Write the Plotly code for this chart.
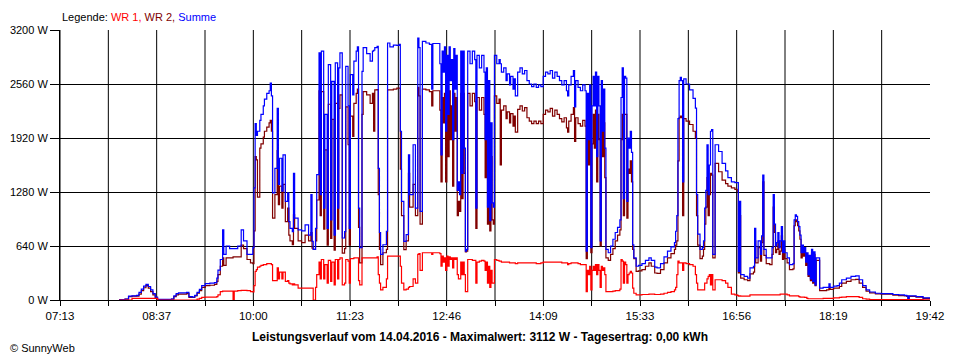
import plotly.graph_objects as go

# ---------------- data ----------------
times = (
    ["08:04","08:09","08:12","08:15","08:19","08:21","08:23","08:25","08:27","08:29","08:31","08:33","08:35","08:37","08:43","08:49","08:51","08:53","08:55","09:02","09:04","09:07","09:09","09:11","09:13","09:15","09:18","09:22","09:26","09:28"]
    + ["09:29","09:31","09:33","09:34","09:36","09:39","09:42","09:43","09:46","09:49","09:51","09:54","09:57","09:59","10:00","10:01","10:02","10:03","10:05","10:06","10:08","10:09","10:11","10:13","10:14","10:15","10:16"]
    + ["10:18","10:20","10:21","10:22","10:24","10:25","10:27","10:29","10:30","10:31","10:33","10:34","10:35","10:38","10:41","10:44","10:47","10:49","10:50","10:51","10:53"]
    + ["10:54","10:56","10:57","10:58","11:00","11:01","11:03","11:04","11:06","11:07","11:09","11:10","11:12","11:13","11:14","11:16","11:18","11:19","11:21","11:22","11:23","11:25","11:26","11:28","11:29","11:30"]
    + ["11:31","11:33","11:34","11:37","11:40","11:42","11:43","11:44","11:46","11:47","11:48","11:49","11:51","11:54","11:55","11:57","12:00","12:03","12:05","12:06","12:07","12:09","12:11","12:13","12:14","12:17","12:19"]
    + ["12:21","12:22","12:23","12:25","12:28","12:31","12:33","12:34","12:38","12:40","12:41","12:42","12:43","12:44","12:45","12:46","12:47","12:48","12:49","12:50","12:51","12:52","12:53","12:54","12:55","12:56","12:57","12:58"]
    + ["12:59","13:00","13:01","13:02","13:03","13:04","13:06","13:08","13:10","13:11","13:12","13:14","13:16","13:18","13:19","13:20","13:21","13:22","13:23","13:24","13:25","13:26","13:27","13:29","13:31","13:32","13:33","13:35","13:37","13:38","13:40","13:41","13:43","13:44","13:45"]
    + ["13:47","13:49","13:51","13:53","13:55","13:57","13:59","14:01","14:03","14:05","14:07","14:09","14:11","14:13","14:15","14:17","14:19","14:21","14:23","14:25","14:27","14:29","14:30","14:31","14:33","14:35","14:36","14:37","14:39","14:41","14:43","14:45"]
    + ["14:46","14:47","14:48","14:49","14:50","14:51","14:52","14:53","14:54","14:55","14:56","14:57","14:58","14:59","15:00","15:01","15:02","15:03","15:05","15:07","15:09","15:11","15:13","15:15"]
    + ["15:16","15:17","15:18","15:19","15:20","15:21","15:22","15:23","15:24","15:25","15:26","15:27","15:29","15:31","15:34","15:37","15:40","15:42","15:45","15:47","15:50","15:53","15:56","15:59","16:02"]
    + ["16:03","16:04","16:05","16:06","16:07","16:08","16:09","16:10","16:12","16:15","16:18","16:20","16:21","16:22","16:24","16:26","16:27","16:28","16:29","16:30","16:31","16:32","16:33","16:34","16:35"]
    + ["16:37","16:40","16:43","16:46","16:48","16:51","16:54","16:56","16:57","16:58","16:59","17:02","17:05","17:07","17:10"]
    + ["17:11","17:12","17:14","17:16","17:17","17:18","17:19","17:21","17:24","17:26","17:27","17:28","17:29","17:30","17:31","17:32","17:33","17:34","17:35","17:36","17:37","17:39","17:41","17:44","17:45","17:46","17:47","17:48","17:49","17:50","17:51","17:52","17:53","17:54","17:55","17:56","17:57","17:58","17:59","18:00","18:01","18:02","18:03","18:04","18:06","18:07"]
    + ["18:10","18:13","18:15","18:16","18:19","18:22","18:24","18:26","18:30","18:34","18:38","18:41","18:44","18:47","18:50","18:55","19:00","19:10","19:15","19:20","19:22","19:23","19:24","19:30","19:36","19:42"]
)

wr1 = (
    [0,0,0,20,20,20,20,20,20,20,20,20,20,0,0,0,0,0,0,0,0,0,0,10,20,30,35,35,35,40]
    + [60,100,105,105,105,105,0,105,110,115,115,110,100,95,170,340,360,390,400,410,420,420,430,430,430,420,230]
    + [230,380,250,330,250,330,220,230,200,190,180,190,180,140,140,140,140,140,140,0,150]
    + [300,450,250,480,250,420,200,470,220,450,180,480,250,480,500,180,200,480,460,200,490,490,500,500,500,230]
    + [180,500,500,500,500,500,500,500,510,300,200,120,150,250,520,520,520,520,520,400,200,120,130,150,160,250,200]
    + [540,550,350,560,560,560,540,560,560,550,400,520,450,500,350,520,400,510,480,500,380,500,480,500,300,250,250,450]
    + [300,450,300,100,100,480,480,470,470,200,450,460,470,460,350,450,200,400,150,350,200,200,480,470,460,460,450,450,450,450,440,440,440,440,430]
    + [440,440,440,440,440,440,440,440,430,430,440,450,450,450,450,450,450,450,450,440,440,440,420,430,440,440,440,440,430,420,420,420]
    + [100,350,300,400,120,350,400,350,420,300,420,350,150,400,350,380,300,100,100,100,105,110,110,130]
    + [480,460,200,450,420,200,300,320,340,320,140,80,60,60,65,65,70,70,65,65,70,80,90,100,120]
    + [150,300,460,440,440,440,350,440,430,420,400,300,200,120,120,120,120,200,200,250,280,300,180,300,120]
    + [240,240,230,200,150,70,60,55,45,50,45,45,45,60,60]
    + [60]*16 + [70]*5 + [60] + [50]*6 + [40] + [35]*4 + [30,30,20] + [15]*10
    + [20,20,20,20,25,25,30,35,40,40,40,30,15,10,5,5,5,5,5,5,5,5,5,5,3,2]
)

wr2 = (
    [5,10,40,45,45,70,110,145,170,140,100,60,25,5,5,10,40,60,70,75,30,30,50,80,110,150,170,175,185,220]
    + [300,400,500,410,500,500,510,510,510,650,610,480,440,430,820,1700,1660,1220,1800,1850,1930,2000,2050,2100,2130,2000,970]
    + [1250,1770,1130,1350,1090,1370,930,1090,770,700,655,1010,850,700,680,770,700,800,616,600,700]
    + [1185,2480,1000,2470,840,1780,650,2320,730,2140,590,2330,840,2270,2430,555,610,2290,1840,650,2180,1940,2330,2450,2500,860]
    + [440,2200,2470,2430,2330,2450,2000,2490,2495,1250,600,420,560,600,2490,2490,2500,2510,2510,1550,1000,596,700,1500,1100,1370,1000]
    + [2520,2420,900,2500,2490,2470,2300,2480,2480,2250,1400,2400,2100,2450,1400,2350,1700,2480,1900,2300,1350,2450,2000,2400,1000,1170,1050,2450]
    + [1200,2450,1500,570,580,2450,2300,2450,2350,850,2400,2250,2400,2200,1450,2250,900,2100,820,1700,950,900,2420,2330,2380,1600,2250,2300,2150,2230,2100,2210,2060,2180,1990]
    + [2260,2300,2240,2280,2160,2120,2090,2120,2090,2120,2090,2200,2250,2230,2270,2180,2250,2200,2150,2110,2160,2040,1990,2120,2200,2280,1880,2160,2090,2060,2130,2060]
    + [490,2000,1600,2100,560,1850,2200,1800,2250,1400,2200,1900,640,2150,1700,2100,1450,500,470,540,610,700,770,830]
    + [1900,2200,1000,2200,2200,970,1550,1500,1650,1400,600,490,340,345,360,400,440,400,320,315,360,440,500,550,600]
    + [650,700,1650,2160,2180,2160,1000,2150,2120,2080,2000,1920,1000,650,490,520,600,900,1100,1450,1000,1250,1500,1480,500]
    + [1620,1520,1420,1380,1350,1330,1310,1290,320,1000,260,240,230,310,330]
    + [700,440,620,460,680,1400,530,430,420,540,1100,800,560,600,700,540,580,760,480,600,490,440,360,370,880,950,930,880,820,720,500,590,520,560,410,520,280,500,230,560,200,540,170,470,470,110]
    + [110,120,150,125,140,140,160,200,220,240,245,200,150,105,85,72,68,58,52,48,44,10,42,34,20,12]
)

summe = (
    [5,12,45,50,55,90,130,165,186,160,120,75,35,8,8,12,50,75,85,90,40,35,55,90,125,170,195,200,205,260]
    + [355,480,830,540,640,610,610,610,640,830,700,540,540,620,1330,2090,1950,2000,2130,2200,2300,2380,2450,2480,2570,2420,1270]
    + [1560,2270,1370,1680,1290,1720,1170,1270,930,850,810,1500,970,830,820,890,770,1250,695,600,850]
    + [1485,2930,1250,2950,1090,2200,850,2790,950,2590,770,2810,1090,2750,2930,735,810,2770,2300,850,2670,2430,2830,2950,3000,1090]
    + [620,2710,2990,2920,2830,2950,2960,2990,3006,1560,800,540,655,815,3046,3000,3020,3018,3030,2000,1170,695,775,1720,1250,1840,1090]
    + [3105,2990,1050,3066,3046,3030,2500,3040,3040,2800,1720,2950,2700,3000,2000,2900,2200,3000,2600,2850,1900,2980,2500,2900,1300,1400,1250,2950]
    + [1500,2950,1800,580,600,2950,2800,2950,2850,1090,2900,2750,2900,2700,1900,2750,1100,2600,940,2100,1150,1100,2900,2800,2850,2800,2700,2750,2600,2680,2550,2650,2500,2620,2420]
    + [2700,2750,2680,2720,2600,2560,2530,2560,2520,2550,2530,2650,2700,2680,2720,2630,2700,2650,2600,2550,2600,2480,2420,2550,2650,2720,2290,2600,2520,2480,2550,2480]
    + [580,2450,1900,2550,620,2300,2650,2300,2700,1700,2650,2300,700,2600,2000,2500,1800,600,560,640,720,800,860,950]
    + [2400,2750,1200,2650,2630,1170,1920,1800,2000,1750,655,500,400,410,430,470,500,470,390,380,430,510,580,630,680]
    + [815,1000,2150,2600,2640,2600,1400,2620,2560,2490,2390,2275,1250,780,600,620,700,1090,1300,1840,1250,1600,2000,2020,540]
    + [1840,1760,1620,1530,1450,1400,1390,1390,340,1170,300,280,260,380,400]
    + [850,500,700,540,760,1480,600,500,500,620,1250,900,640,680,800,620,700,870,560,700,560,500,420,430,950,1010,990,930,870,770,560,650,560,620,450,560,300,530,250,600,220,570,180,500,500,140]
    + [150,150,190,150,165,170,200,240,260,280,285,240,170,120,95,80,75,65,60,55,50,15,50,40,25,15]
)

x_tick_labels = ["07:13","08:37","10:00","11:23","12:46","14:09","15:33","16:56","18:19","19:42"]
y_tick_values = [0, 640, 1280, 1920, 2560, 3200]

legend_text = ("Legende: <span style='color:#FF0000'>WR 1,</span> "
               "<span style='color:#800000'>WR 2,</span> "
               "<span style='color:#0000FF'>Summe</span>")
title_text = "Leistungsverlauf vom 14.04.2016 - Maximalwert: 3112 W - Tagesertrag: 0,00 kWh"
credit_text = "© SunnyWeb"

if not (len(times) == len(wr1) == len(wr2) == len(summe)):
    raise SystemExit(f"length mismatch {len(times)} {len(wr1)} {len(wr2)} {len(summe)}")

# ---------------- figure ----------------
def to_min(s):
    h, m = s.split(":")
    return int(h) * 60 + int(m)

xm = [to_min(t) for t in times]
t0 = to_min(x_tick_labels[0])
t1 = to_min(x_tick_labels[-1])
n_int = 2 * (len(x_tick_labels) - 1)
step = (t1 - t0) / n_int
grid_x = [t0 + k * step for k in range(n_int + 1)]
tick_text = [x_tick_labels[k // 2] if k % 2 == 0 else "" for k in range(n_int + 1)]

FONT = "Liberation Sans, Arial, sans-serif"

fig = go.Figure()
fig.add_trace(go.Scatter(x=xm, y=wr2, mode="lines", name="WR 2",
                         line=dict(color="#800000", width=1.2, shape="hv")))
fig.add_trace(go.Scatter(x=xm, y=summe, mode="lines", name="Summe",
                         line=dict(color="#0000FF", width=1.2, shape="hv")))
fig.add_trace(go.Scatter(x=xm, y=wr1, mode="lines", name="WR 1",
                         line=dict(color="#FF0000", width=1.2, shape="hv")))

for gx in grid_x[:-1]:
    fig.add_shape(type="line", xref="x", yref="paper", x0=gx, x1=gx, y0=0, y1=1,
                  line=dict(color="black", width=1), layer="below")

# the page body adds an 8 px offset; figure size and margins compensate for it
fig.update_layout(
    width=952, height=352,
    margin=dict(l=52, r=30, t=22, b=60),
    plot_bgcolor="white", paper_bgcolor="white",
    showlegend=False,
    font=dict(family=FONT, size=11, color="black"),
)
fig.update_xaxes(range=[t0, t1], tickmode="array", tickvals=grid_x, ticktext=tick_text,
                 ticks="outside", ticklen=5, tickwidth=1, tickcolor="black",
                 showgrid=False, zeroline=False, showline=True, linecolor="black", linewidth=1,
                 automargin=False,
                 tickfont=dict(size=11.5, family=FONT, color="black"))
fig.update_yaxes(range=[0, 3200], tickmode="array", tickvals=y_tick_values,
                 ticktext=[f"{v} W" for v in y_tick_values],
                 ticks="outside", ticklen=9, tickwidth=1, tickcolor="black",
                 showgrid=True, gridcolor="black", gridwidth=1,
                 zeroline=False, showline=True, linecolor="black", linewidth=1,
                 automargin=False,
                 tickfont=dict(size=11, family=FONT, color="black"))

fig.add_annotation(text=legend_text, xref="paper", yref="paper", x=0, y=1.049,
                   xanchor="left", yanchor="middle", showarrow=False,
                   font=dict(size=11, family=FONT, color="black"))
fig.add_annotation(text="<b>" + title_text + "</b>", xref="paper", yref="paper",
                   x=0.4828, y=-0.137, xanchor="center", yanchor="middle", showarrow=False,
                   font=dict(size=12, family=FONT, color="black"))
fig.add_annotation(text=credit_text, xref="paper", yref="paper", x=-0.0598, y=-0.179,
                   xanchor="left", yanchor="middle", showarrow=False,
                   font=dict(size=11, family=FONT, color="black"))

fig.write_html("out.html")
